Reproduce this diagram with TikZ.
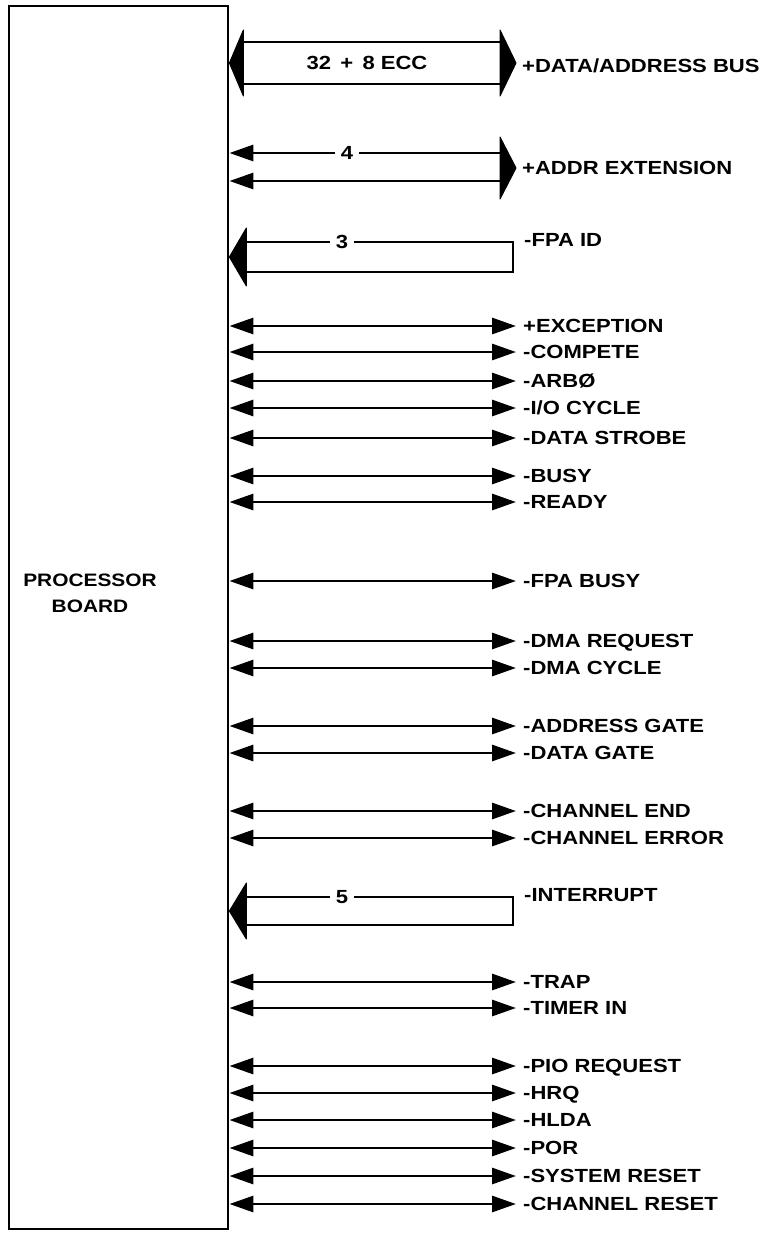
\documentclass[tikz,border=0pt]{standalone}
\usepackage{fontspec}
\newfontfamily\lblfam[FakeStretch=1.16]{Liberation Sans}
\usetikzlibrary{arrows.meta,positioning,calc}

\begin{document}
\begin{tikzpicture}[
      x=1pt,y=-1pt,
      sigLbl/.style={anchor=west,inner sep=0pt,text height=13.6pt,text depth=0pt,
                     font=\lblfam\bfseries\fontsize{19}{22}\selectfont},
      busNum/.style={fill=white,inner xsep=6pt,inner ysep=2pt,text height=13.6pt,text depth=0pt,
                     font=\lblfam\bfseries\fontsize{19}{22}\selectfont},
      sigArr/.style={{Triangle[length=24pt,width=16pt]}-{Triangle[length=24pt,width=16pt]},
                     line width=2.9pt},
      inArr/.style={{Triangle[length=24pt,width=16pt]}-,line width=2.9pt},
      busLine/.style={line width=2.6pt},
      bigHead/.style={fill=black,draw=black,line width=1pt,line join=round}
    ]
    \useasboundingbox (0,0) rectangle (776,1234);

    % Processor board
    \node(brd)[draw,line width=2.8pt,minimum width=219pt,minimum height=1223pt,inner sep=0pt]
      at (118.5,617.5) {};
    \node(brdTxt)[align=center,inner sep=0pt,font=\lblfam\bfseries\fontsize{18}{26}\selectfont]
      at (90,593) {PROCESSOR\\BOARD};

    % Data / address bus
    \node(dab)[busNum,fill=none] at (367,63) {32 \,+\, 8 ECC};
    \node(dabLbl)[sigLbl] at (522,66) {+DATA/ADDRESS BUS};
    \coordinate(dabL) at (brd.east |- dab);
    \coordinate(dabR) at ([xshift=-6pt]dabLbl.west |- dab);
    \draw[busLine] ([shift={(12,-21)}]dabL) -- ([shift={(-14,-21)}]dabR);
    \draw[busLine] ([shift={(12,21)}]dabL) -- ([shift={(-14,21)}]dabR);
    \filldraw[bigHead] (dabL) -- ++(14,-33) -- ++(0,66) -- cycle;
    \filldraw[bigHead] (dabR) -- ++(-16,-33) -- ++(0,66) -- cycle;

    % Address extension
    \node(aeLbl)[sigLbl] at (522,168) {+ADDR EXTENSION};
    \coordinate(aeR) at ([xshift=-6pt]aeLbl.west);
    \draw[inArr] (brd.east |- 0,153) -- ([shift={(-14,-15)}]aeR);
    \draw[inArr] (brd.east |- 0,181) -- ([shift={(-14,13)}]aeR);
    \node(ae)[busNum] at (347,153) {4};
    \filldraw[bigHead] (aeR) -- ++(-16,-31) -- ++(0,62) -- cycle;

    % FPA ID
    \node(fidLbl)[sigLbl] at (524,240) {-FPA ID};
    \coordinate(fidL) at (brd.east |- 0,257);
    \draw[busLine] ([shift={(14,-15)}]fidL) -| (513,272) -- ([shift={(14,15)}]fidL);
    \node(fid)[busNum] at (342,242) {3};
    \filldraw[bigHead] (fidL) -- ++(17,-29) -- ++(0,58) -- cycle;

    % Single signals
    \node(sExc)[sigLbl] at (523,326) {+EXCEPTION};
    \node(sCmp)[sigLbl] at (523,352) {-COMPETE};
    \node(sArb)[sigLbl] at (523,381) {-ARBØ};
    \node(sIoc)[sigLbl] at (523,408) {-I/O CYCLE};
    \node(sDst)[sigLbl] at (523,438) {-DATA STROBE};
    \node(sBsy)[sigLbl] at (523,476) {-BUSY};
    \node(sRdy)[sigLbl] at (523,502) {-READY};
    \node(sFpb)[sigLbl] at (523,581) {-FPA BUSY};
    \node(sDrq)[sigLbl] at (523,641) {-DMA REQUEST};
    \node(sDcy)[sigLbl] at (523,668) {-DMA CYCLE};
    \node(sAgt)[sigLbl] at (523,726) {-ADDRESS GATE};
    \node(sDgt)[sigLbl] at (523,753) {-DATA GATE};
    \node(sChe)[sigLbl] at (523,811) {-CHANNEL END};
    \node(sChr)[sigLbl] at (523,838) {-CHANNEL ERROR};
    \node(sTrp)[sigLbl] at (523,982) {-TRAP};
    \node(sTmr)[sigLbl] at (523,1008) {-TIMER IN};
    \node(sPio)[sigLbl] at (523,1066) {-PIO REQUEST};
    \node(sHrq)[sigLbl] at (523,1093) {-HRQ};
    \node(sHld)[sigLbl] at (523,1120) {-HLDA};
    \node(sPor)[sigLbl] at (523,1148) {-POR};
    \node(sSrs)[sigLbl] at (523,1176) {-SYSTEM RESET};
    \node(sCrs)[sigLbl] at (523,1204) {-CHANNEL RESET};

    \foreach \s in {sExc,sCmp,sArb,sIoc,sDst,sBsy,sRdy,sFpb,sDrq,sDcy,sAgt,sDgt,
                    sChe,sChr,sTrp,sTmr,sPio,sHrq,sHld,sPor,sSrs,sCrs}
      \draw[sigArr] (brd.east |- \s.west) -- ([xshift=-7pt]\s.west);

    % Interrupt
    \node(intLbl)[sigLbl] at (524,895) {-INTERRUPT};
    \coordinate(intL) at (brd.east |- 0,911);
    \draw[busLine] ([shift={(14,-14)}]intL) -| (513,925) -- ([shift={(14,14)}]intL);
    \node(int)[busNum] at (342,897) {5};
    \filldraw[bigHead] (intL) -- ++(17,-28) -- ++(0,56) -- cycle;
  \end{tikzpicture}
\end{document}
